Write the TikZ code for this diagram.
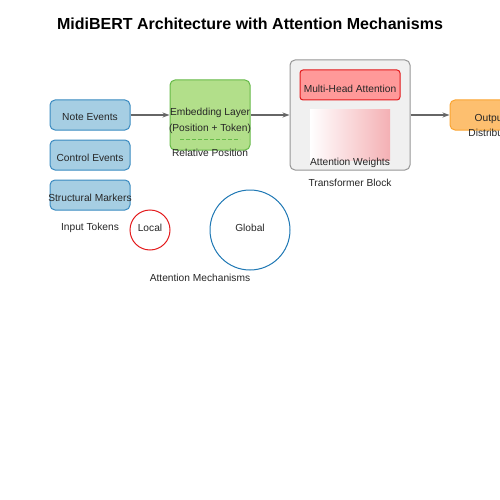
\documentclass[tikz,border=0pt]{standalone}
\usepackage{fontspec}
\setmainfont{Liberation Sans}
\usetikzlibrary{arrows.meta, positioning, calc}
\definecolor{TokenFill}{RGB}{166, 206, 227}
\definecolor{TokenLine}{RGB}{58, 138, 192}
\definecolor{EmbFill}{RGB}{178, 223, 138}
\definecolor{EmbLine}{RGB}{102, 186, 72}
\definecolor{BlockFill}{RGB}{240, 240, 240}
\definecolor{BlockLine}{RGB}{150, 150, 150}
\definecolor{AttnFill}{RGB}{255, 153, 153}
\definecolor{AttnLine}{RGB}{227, 26, 28}
\definecolor{WeightPink}{RGB}{244, 176, 180}
\definecolor{OutFill}{RGB}{253, 191, 111}
\definecolor{OutLine}{RGB}{250, 165, 50}
\definecolor{GlobalLine}{RGB}{31, 120, 180}
\definecolor{ArrowGray}{RGB}{102, 102, 102}

\tikzset{
    lbl/.style={font=\fontsize{10.2}{12}\selectfont, inner sep=0pt, text=black!85, yshift=-1.5pt},
    tokenbox/.style={draw=TokenLine, fill=TokenFill, line width=1pt, rounded corners=5pt,
        minimum width=80pt, minimum height=30pt, inner sep=0pt},
    flow/.style={draw=ArrowGray, line width=1.3pt, -{Stealth[length=7pt, width=5pt]}}
}

\begin{document}
\begin{tikzpicture}[x=1pt, y=-1pt]
            \useasboundingbox (0,0) rectangle (500,500);
            \clip (0,0) rectangle (500,500);

            % Title
            \node[font=\fontsize{16}{19}\selectfont\bfseries, inner sep=0pt] (title) at (250, 24) {MidiBERT Architecture with Attention Mechanisms};

            % Input tokens
            \node[tokenbox] (note) at (90, 115) {};
            \node[lbl] at (90, 116) {Note Events};
            \node[tokenbox] (control) at (90, 155) {};
            \node[lbl] at (90, 156) {Control Events};
            \node[tokenbox] (struct) at (90, 195) {};
            \node[lbl] at (90, 196) {Structural Markers};
            \node[lbl] (inlbl) at (90, 226) {Input Tokens};

            % Embedding layer
            \node[draw=EmbLine, fill=EmbFill, line width=1pt, rounded corners=5pt,
                minimum width=80pt, minimum height=70pt] (emb) at (210, 115) {};
            \node[lbl] (embA) at (210, 111) {Embedding Layer};
            \node[lbl] (embB) at (210, 127) {(Position + Token)};
            \draw[EmbLine, line width=1pt, dash pattern=on 4pt off 2pt] (180, 139) -- (240, 139);
            \node[lbl] (relpos) at (210, 151) {Relative Position};

            % Transformer block
            \node[draw=BlockLine, fill=BlockFill, line width=1pt, rounded corners=5pt,
                minimum width=120pt, minimum height=110pt] (block) at (350, 115) {};
            \node[draw=AttnLine, fill=AttnFill, line width=1pt, rounded corners=3pt,
                minimum width=100pt, minimum height=30pt] (mha) at (350, 85) {};
            \node[lbl] at (350, 87) {Multi-Head Attention};
            \shade[left color=white, right color=WeightPink] (310, 110) rectangle (390, 160);
            \node[lbl] (weights) at (350, 161) {Attention Weights};
            \node[lbl] (blocklbl) at (350, 181) {Transformer Block};

            % Output
            \node[draw=OutLine, fill=OutFill, line width=1pt, rounded corners=5pt,
                minimum width=80pt, minimum height=30pt] (out) at (490, 115) {};
            \node[lbl] (outA) at (490, 117) {Output};
            \node[lbl] (outB) at (494, 131) {Distribution};

            % Attention mechanisms
            \node[circle, draw=AttnLine, line width=1pt, minimum size=40pt] (local) at (150, 230) {};
            \node[lbl] at (150, 226) {Local};
            \node[circle, draw=GlobalLine, line width=1pt, minimum size=80pt] (global) at (250, 230) {};
            \node[lbl] at (250, 226) {Global};
            \node[lbl] (mechlbl) at (200, 276) {Attention Mechanisms};

            % Flow
            \draw[flow] (note.east) -- (emb.west |- note.east);
            \draw[flow] (emb.east) -- (block.west);
            \draw[flow] (block.east) -- (out.west);
        \end{tikzpicture}
\end{document}
